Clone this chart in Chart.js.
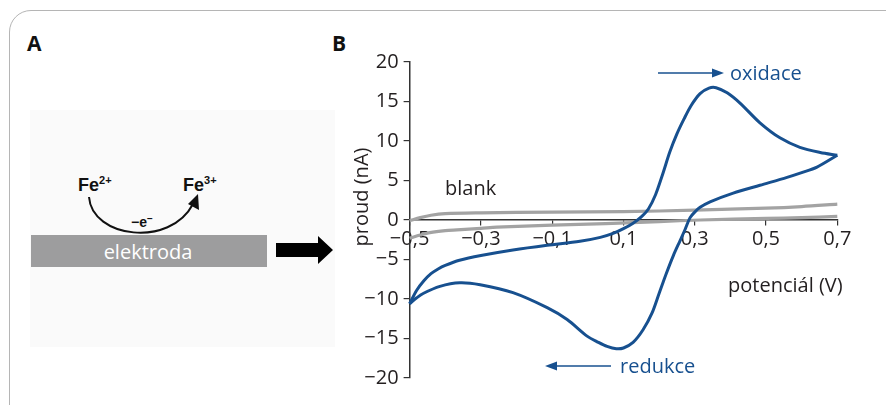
<!DOCTYPE html>
<html><head><meta charset="utf-8">
<script src="https://cdn.jsdelivr.net/npm/chart.js@4.4.1/dist/chart.umd.min.js"></script>
<style>
html,body{margin:0;padding:0;background:#fff;width:886px;height:405px;overflow:hidden;font-family:"Open Sans",sans-serif;}
#frame{position:absolute;left:9px;top:10px;width:920px;height:430px;border:1.5px solid #b5b5b5;border-radius:22px;box-sizing:border-box;}
#wrap{position:absolute;left:0;top:0;width:886px;height:405px;}
svg.ov{position:absolute;left:0;top:0;pointer-events:none;}
</style></head><body>
<div id="frame"></div>
<svg class="ov" width="886" height="405">
  <rect x="30" y="110" width="305" height="237" fill="#fafafa"/>
  <text x="27" y="51" font-family="Open Sans" font-weight="bold" font-size="21" fill="#111">A</text>
  <text x="332" y="51" font-family="Open Sans" font-weight="bold" font-size="21" fill="#111">B</text>
  <text x="78" y="191" font-family="Liberation Sans" font-weight="bold" font-size="18" fill="#111">Fe<tspan font-size="11" dy="-7">2+</tspan></text>
  <text x="183" y="191" font-family="Liberation Sans" font-weight="bold" font-size="18" fill="#111">Fe<tspan font-size="11" dy="-7">3+</tspan></text>
  <path d="M89 197 C 92 238, 170 248, 193 204" stroke="#111" stroke-width="2" fill="none"/>
  <polygon points="198,194 199,210 188,204" fill="#111"/>
  <text x="131" y="227" font-family="Liberation Sans" font-weight="bold" font-size="14" fill="#111">−e<tspan font-size="10" dy="-5">−</tspan></text>
  <rect x="31" y="235" width="236" height="32" fill="#9d9d9e"/>
  <text x="148" y="259" text-anchor="middle" font-family="Open Sans" font-size="20" fill="#fff">elektroda</text>
  <polygon points="276,243 318,243 318,236 333,250 318,264 318,257 276,257" fill="#000"/>
</svg>
<div id="wrap"><canvas id="c" width="886" height="405"></canvas></div>
<svg class="ov" width="886" height="405">
  <text transform="translate(368,197) rotate(-90)" text-anchor="middle" font-family="Open Sans" font-size="20" fill="#231f20">proud (nA)</text>
  <text x="728" y="292" font-family="Open Sans" font-size="20" fill="#231f20">potenciál (V)</text>
  <text x="445" y="195" font-family="Open Sans" font-size="20" fill="#231f20">blank</text>
  <text x="730" y="80" font-family="Open Sans" font-size="20" fill="#17508f">oxidace</text>
  <line x1="658" y1="73" x2="714" y2="73" stroke="#17508f" stroke-width="1.6"/>
  <polygon points="724,73 712,68.5 712,77.5" fill="#17508f"/>
  <text x="620" y="373" font-family="Open Sans" font-size="20" fill="#17508f">redukce</text>
  <line x1="611" y1="366" x2="555" y2="366" stroke="#17508f" stroke-width="1.6"/>
  <polygon points="545,366 557,361.5 557,370.5" fill="#17508f"/>
</svg>
<script>
// Cyclic voltammogram data (potential V, current nA)
const FWD_V = [-0.500,-0.480,-0.460,-0.440,-0.420,-0.400,-0.360,-0.300,-0.210,-0.114,-0.022,0.035,0.071,0.100,0.127,0.150,0.170,0.190,0.210,0.230,0.250,0.270,0.290,0.315,0.340,0.360,0.391,0.427,0.483,0.539,0.595,0.652,0.700];
const FWD_I = [-10.6,-8.9,-7.7,-6.8,-6.2,-5.75,-5.1,-4.5,-3.8,-3.2,-2.7,-2.2,-1.7,-1.1,-0.4,0.4,1.4,3.2,5.8,8.6,10.9,12.8,14.5,16.0,16.7,16.75,16.1,14.8,12.3,10.4,9.2,8.55,8.2];
const REV_V = [0.700,0.643,0.600,0.559,0.483,0.408,0.343,0.315,0.300,0.287,0.272,0.259,0.240,0.220,0.200,0.180,0.155,0.127,0.100,0.080,0.054,0.030,-0.002,-0.058,-0.114,-0.210,-0.302,-0.359,-0.415,-0.462,-0.480,-0.500];
const REV_I = [8.2,6.7,6.0,5.4,4.4,3.4,2.3,1.6,1.0,0.3,-1.3,-2.6,-4.5,-6.8,-9.3,-11.8,-13.9,-15.5,-16.2,-16.3,-16.0,-15.5,-14.7,-12.6,-11.1,-9.2,-8.2,-7.95,-8.4,-9.3,-9.85,-10.6];
const BLANK_UP_V = [-0.500,-0.470,-0.440,-0.400,-0.300,-0.100,0.100,0.300,0.500,0.600,0.700];
const BLANK_UP_I = [-0.1,0.3,0.6,0.8,0.9,1.0,1.05,1.25,1.5,1.7,2.0];
const BLANK_LO_V = [-0.500,-0.470,-0.443,-0.400,-0.367,-0.300,-0.255,-0.100,0.050,0.200,0.315,0.500,0.600,0.700];
const BLANK_LO_I = [-2.3,-1.9,-1.6,-1.35,-1.25,-1.05,-0.9,-0.65,-0.45,-0.2,0.0,0.2,0.3,0.45];
const X_TICKS = [-0.5,-0.3,-0.1,0.1,0.3,0.5,0.7];
const Y_TICKS = [-20,-15,-10,-5,0,5,10,15,20];

const BLUE = '#17508f', GREY = '#a3a3a3', AX = '#333333', TXT = '#231f20';
const pts = (xs, ys) => xs.map((x, i) => ({x, y: ys[i]}));
const fmt = v => { const s = (Math.round(v*10)/10).toString().replace('.', ','); return v < 0 ? '\u2212' + s.slice(1) : s; };
const fmtY = v => v < 0 ? '\u2212' + Math.abs(v) : String(v);
const ds = (data, color, w) => ({data, borderColor: color, borderWidth: w, pointRadius: 0, showLine: true, tension: 0.3, fill: false, clip: 6});

new Chart(document.getElementById('c'), {
  type: 'scatter',
  data: { datasets: [
    ds(pts(FWD_V, FWD_I), BLUE, 3),
    ds(pts(REV_V, REV_I), BLUE, 3),
    ds(pts(BLANK_UP_V, BLANK_UP_I), GREY, 3.2),
    ds(pts(BLANK_LO_V, BLANK_LO_I), GREY, 3.2)
  ]},
  options: {
    responsive: false, animation: false, devicePixelRatio: 1,
    layout: { padding: { left: 347.6, right: 48.7, top: 62, bottom: 27 } },
    plugins: { legend: { display: false }, tooltip: { enabled: false } },
    scales: {
      x: {
        type: 'linear', min: -0.5, max: 0.7, position: { y: 0 },
        afterBuildTicks: s => { s.ticks = X_TICKS.map(v => ({value: v})); },
        grid: { display: true, drawOnChartArea: false, drawTicks: true, tickLength: 5, color: AX, lineWidth: 1.2 },
        border: { display: true, color: AX, width: 1.5 },
        ticks: { color: TXT, font: { family: 'Open Sans', size: 20 }, padding: 2, maxRotation: 0, autoSkip: false, callback: v => fmt(v) }
      },
      y: {
        type: 'linear', min: -20, max: 20, position: 'left',
        afterBuildTicks: s => { s.ticks = Y_TICKS.map(v => ({value: v})); },
        afterFit: s => { s.width = 62; },
        grid: { display: true, drawOnChartArea: false, drawTicks: true, tickLength: 6, color: AX, lineWidth: 1.2 },
        border: { display: true, color: AX, width: 1.5 },
        ticks: { color: TXT, font: { family: 'Open Sans', size: 20 }, padding: 5, callback: v => fmtY(v) }
      }
    }
  }
});
</script>
</body></html>
